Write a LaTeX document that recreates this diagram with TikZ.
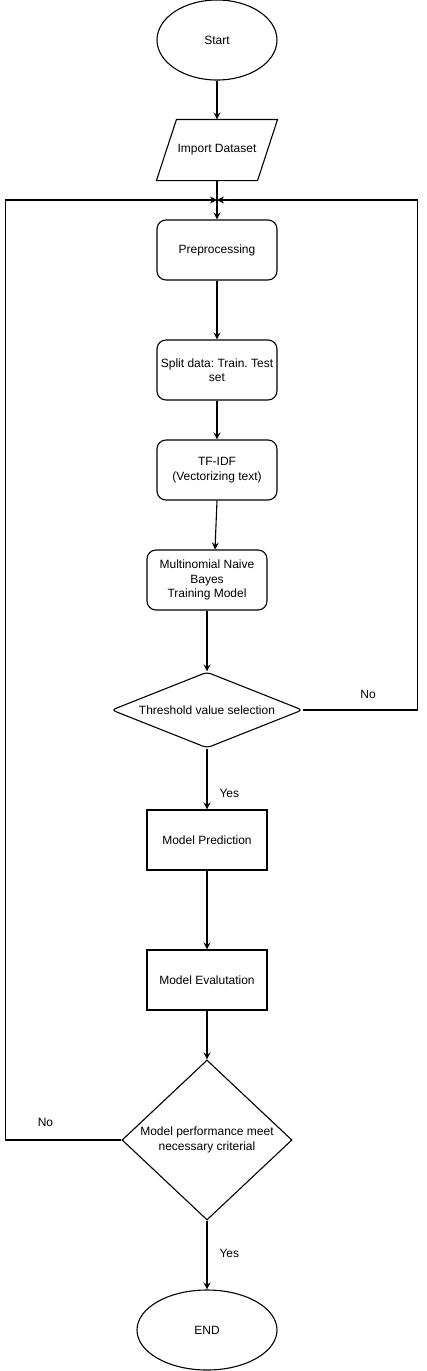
\documentclass[tikz,border=0pt]{standalone}
\usepackage{fontspec}
\setmainfont{Liberation Sans}
\frenchspacing
\usetikzlibrary{shapes.geometric,arrows.meta}

\tikzset{
  terminal/.style={draw,ellipse,minimum width=120pt,minimum height=80pt,inner sep=0pt},
  iobox/.style={rectangle,minimum width=100pt,minimum height=60pt,inner sep=0pt},
  process/.style={draw,rectangle,rounded corners=9pt,minimum width=120pt,minimum height=60pt,align=center,inner sep=2pt},
  plainbox/.style={draw,rectangle,minimum width=120pt,minimum height=60pt,align=center,inner sep=2pt},
  decision/.style={draw,diamond,inner sep=0pt,align=center},
  flowarrow/.style={-{Stealth[length=7pt,width=7pt,inset=2.5pt]}},
  branchlabel/.style={inner sep=0pt}
}

\begin{document}
\begin{tikzpicture}[x=1pt,y=-1pt,line width=1.1pt,font=\fontsize{12}{14.5}\selectfont]

\useasboundingbox (0,0) rectangle (426,1371);

% Draw the nodes
\node[terminal] (start) at (217,40) {Start};
\node[iobox] (import) at (217,150) {Import Dataset};
\coordinate (join) at (217,200);
\node[process] (prep) at (217,250) {Preprocessing};
\node[process] (split) at (217,370) {Split data: Train. Test\\set};
\node[process] (tfidf) at (217,470) {TF-IDF\\(Vectorizing text)};
\node[process] (mnb) at (207,580) {Multinomial Naive\\Bayes\\Training Model};
\node[decision,rounded corners=4pt,aspect=2.5,minimum width=191pt,minimum height=76pt] (thr) at (207,710) {Threshold value selection};
\node[plainbox] (pred) at (207,840) {Model Prediction};
\node[plainbox] (eval) at (207,980) {Model Evalutation};
\node[decision,aspect=1.06,minimum width=170pt,minimum height=160pt] (perf) at (207,1140) {Model performance meet\\necessary criterial};
\node[terminal,minimum width=140pt] (stop) at (207,1330) {END};

% Slanted outline of the input box
\draw ([xshift=10pt]import.north west) -- ([xshift=10pt]import.north east)
  -- ([xshift=-10pt]import.south east) -- ([xshift=-10pt]import.south west) -- cycle;

% Draw the main flow
\draw[flowarrow] (start) -- (import.north);
\draw (import.south) -- (join);
\draw[flowarrow] (join) -- (prep);
\draw[flowarrow] (prep) -- (split);
\draw[flowarrow] (split) -- (tfidf);
\draw[flowarrow] (tfidf.south) -- ([xshift=8pt]mnb.north);
\draw[flowarrow] (mnb) -- (thr);
\draw[flowarrow] (thr) -- node[branchlabel,anchor=base west,xshift=12pt,pos=0.81] {Yes} (pred);
\draw[flowarrow] (pred) -- (eval);
\draw[flowarrow] (eval) -- (perf);
\draw[flowarrow] (perf) -- node[branchlabel,anchor=base west,xshift=12pt,pos=0.53] {Yes} (stop);

% Draw the loops back
\draw[flowarrow] (thr.east) -- node[branchlabel,above=11pt,pos=0.57] {No} ++(114,0) |- (join);
\draw[flowarrow] (perf.west) -- node[branchlabel,above=13pt,pos=0.655] {No} ++(-116,0) |- (join);

\end{tikzpicture}
\end{document}
